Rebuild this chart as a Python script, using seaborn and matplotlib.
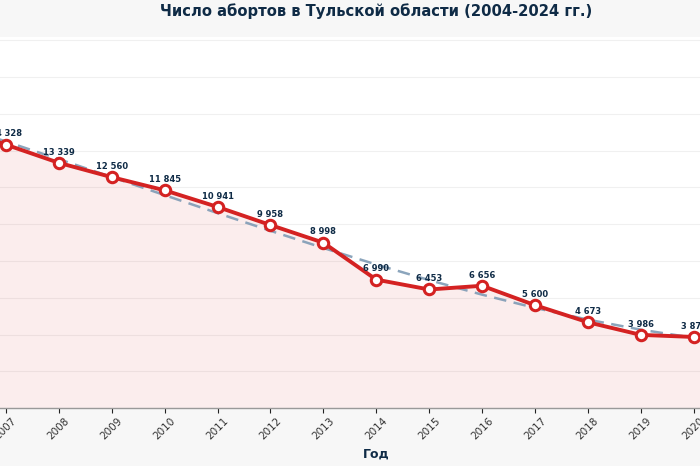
import matplotlib
matplotlib.use("Agg")
import matplotlib.pyplot as plt
import numpy as np
import pandas as pd
import seaborn as sns


# years 2004-2006 and 2021-2024 fall outside the visible crop: estimated
YEARS = list(range(2004, 2025))
ABORTIONS = [17300, 16300, 15300, 14328, 13339, 12560, 11845, 10941, 9958, 8998,
             6990, 6453, 6656, 5600, 4673, 3986, 3873, 3700, 3500, 3300, 3100]

TITLE = "Число абортов в Тульской области (2004-2024 гг.)"
X_LABEL = "Год"
Y_TOP = 20200

RED = "#d42222"
NAVY = "#0f2b46"
TREND = "#7f9bb5"


def fmt(v):
    return f"{v:,}".replace(",", " ")


def main() -> None:
    df = pd.DataFrame({"year": YEARS, "value": ABORTIONS})

    sns.set_theme(style="whitegrid")
    plt.rcParams["font.family"] = ["DejaVu Sans"]

    fig = plt.figure(figsize=(7, 4.66), dpi=100, facecolor="#f7f7f7")
    # the picture shows only the middle part of a wider chart
    ax = fig.add_axes([-0.294, 0.124, 1.663, 0.7975])
    ax.set_facecolor("white")
    ax.set_xlim(2003, 2025)
    ax.set_ylim(0, Y_TOP)

    # which years are (at least partly) on the canvas
    inv = ax.transData.inverted()
    x_lo = inv.transform(fig.transFigure.transform((0, 0)))[0] - 0.4
    x_hi = inv.transform(fig.transFigure.transform((1, 0)))[0] + 0.4
    shown = df[(df["year"] >= x_lo) & (df["year"] <= x_hi)]

    ax.fill_between(df["year"], df["value"], 0, color=RED, alpha=0.08, lw=0)

    coef = np.polyfit(df["year"] - 2014, df["value"], 3)
    df["trend"] = np.polyval(coef, df["year"] - 2014)
    ax.plot(df["year"], df["trend"], ls=(0, (5, 3)), color=TREND, lw=1.8, alpha=0.9)

    sns.lineplot(data=df, x="year", y="value", ax=ax, color=RED, lw=2.8,
                 marker="o", markersize=7.5, markerfacecolor="white",
                 markeredgecolor=RED, markeredgewidth=2.2)

    for x, y in zip(shown["year"], shown["value"]):
        ax.annotate(fmt(y), (x, y), xytext=(0, 4.5), textcoords="offset points",
                    ha="center", va="bottom", fontsize=6, fontweight="bold", color=NAVY)

    ax.set_yticks(range(0, 20001, 2000))
    ax.set_xticks(shown["year"])
    ax.tick_params(axis="y", labelleft=False, left=False)
    ax.tick_params(axis="x", labelrotation=45, labelsize=7.5, labelcolor="#333333",
                   bottom=True, length=3.5, width=0.8, pad=2, color="#222222")
    ax.grid(axis="y", color="#f0f0f0", lw=0.8)
    ax.grid(axis="x", visible=False)
    for side in ["top", "right", "left"]:
        ax.spines[side].set_visible(False)
    ax.spines["bottom"].set_color("#999999")
    ax.spines["bottom"].set_linewidth(1)

    ax.set_title(TITLE, fontsize=10.6, fontweight="bold", color=NAVY, pad=15)
    ax.set_xlabel(X_LABEL, fontsize=9, fontweight="bold", color=NAVY, labelpad=4)
    ax.set_ylabel("")

    fig.savefig("out.png", dpi=100, facecolor=fig.get_facecolor())
    plt.close(fig)


if __name__ == "__main__":
    main()
